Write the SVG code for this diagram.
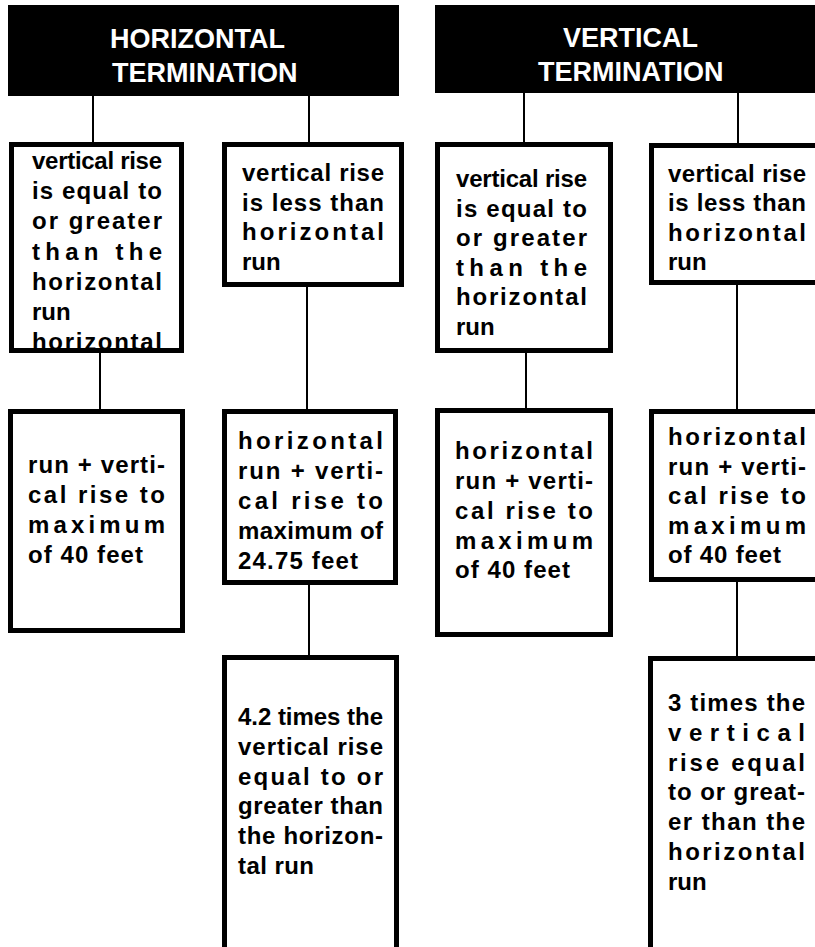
<svg xmlns="http://www.w3.org/2000/svg" width="815" height="947" viewBox="0 0 815 947">
<style>
.hb{fill:#000}
.ht{fill:#fff;font-family:"Liberation Sans",Arial,sans-serif;font-weight:bold;font-size:27px}
.bg{fill:#fff}
.fr{fill:none;stroke:#000;stroke-width:5}
.t{fill:#000;font-family:"Liberation Sans",Arial,sans-serif;font-weight:bold;font-size:24px}
.c line{stroke:#000;stroke-width:2}
</style>
<rect width="815" height="947" fill="#fff"/>
<g id="connectors" class="c">
<line x1="93" y1="96" x2="93" y2="143"/>
<line x1="309" y1="96" x2="309" y2="143"/>
<line x1="100" y1="352" x2="100" y2="410"/>
<line x1="307" y1="286" x2="307" y2="410"/>
<line x1="309" y1="584" x2="309" y2="656"/>
<line x1="524" y1="92" x2="524" y2="143"/>
<line x1="738" y1="92" x2="738" y2="144"/>
<line x1="526" y1="352" x2="526" y2="409"/>
<line x1="737" y1="284" x2="737" y2="410"/>
<line x1="737" y1="581" x2="737" y2="657"/>
</g>
<g id="hdr-horizontal">
<rect class="hb" x="8" y="5" width="391" height="91"/>
<text class="ht" x="110" y="48">HORIZONTAL</text>
<text class="ht" x="112" y="82">TERMINATION</text>
</g>
<g id="hdr-vertical">
<rect class="hb" x="435" y="5" width="385" height="88"/>
<text class="ht" x="563" y="47">VERTICAL</text>
<text class="ht" x="538" y="81">TERMINATION</text>
</g>
<g id="h-rise-ge">
<rect class="bg" x="11.5" y="144.5" width="170" height="206"/>
<text class="t" x="32" y="169" textLength="130">vertical rise</text>
<text class="t" x="32" y="199.2" textLength="130">is equal to</text>
<text class="t" x="32" y="229.4" textLength="130">or greater</text>
<text class="t" x="32" y="259.6" textLength="130">than the</text>
<text class="t" x="32" y="289.8" textLength="130">horizontal</text>
<text class="t" x="32" y="320">run</text>
<text class="t" x="32" y="350.2" textLength="130">horizontal</text>
<rect class="fr" x="11.5" y="144.5" width="170" height="206"/>
</g>
<g id="h-rise-lt">
<rect class="bg" x="224.5" y="144.5" width="177" height="140"/>
<text class="t" x="242" y="181" textLength="142">vertical rise</text>
<text class="t" x="242" y="210.5" textLength="142">is less than</text>
<text class="t" x="242" y="240" textLength="142">horizontal</text>
<text class="t" x="242" y="269.5">run</text>
<rect class="fr" x="224.5" y="144.5" width="177" height="140"/>
</g>
<g id="h-max40">
<rect class="bg" x="10.5" y="411.5" width="172" height="219"/>
<text class="t" x="28" y="473.3" textLength="137">run + verti-</text>
<text class="t" x="28" y="503" textLength="137">cal rise to</text>
<text class="t" x="28" y="532.8" textLength="137">maximum</text>
<text class="t" x="28" y="562.7" textLength="115">of 40 feet</text>
<rect class="fr" x="10.5" y="411.5" width="172" height="219"/>
</g>
<g id="h-max2475">
<rect class="bg" x="224.5" y="411.5" width="171" height="171"/>
<text class="t" x="238" y="449" textLength="145">horizontal</text>
<text class="t" x="238" y="479" textLength="145">run + verti-</text>
<text class="t" x="238" y="509" textLength="145">cal rise to</text>
<text class="t" x="238" y="539" textLength="145">maximum of</text>
<text class="t" x="238" y="569" textLength="120">24.75 feet</text>
<rect class="fr" x="224.5" y="411.5" width="171" height="171"/>
</g>
<g id="h-42times">
<rect class="bg" x="224.5" y="657.5" width="172" height="300"/>
<text class="t" x="238" y="725" textLength="145">4.2 times the</text>
<text class="t" x="238" y="754.8" textLength="145">vertical rise</text>
<text class="t" x="238" y="784.6" textLength="145">equal to or</text>
<text class="t" x="238" y="814.4" textLength="145">greater than</text>
<text class="t" x="238" y="844.2" textLength="145">the horizon-</text>
<text class="t" x="238" y="874" textLength="76">tal run</text>
<rect class="fr" x="224.5" y="657.5" width="172" height="300"/>
</g>
<g id="v-rise-ge">
<rect class="bg" x="437.5" y="144.5" width="173" height="206"/>
<text class="t" x="456" y="187" textLength="131">vertical rise</text>
<text class="t" x="456" y="216.6" textLength="131">is equal to</text>
<text class="t" x="456" y="246.2" textLength="131">or greater</text>
<text class="t" x="456" y="275.8" textLength="131">than the</text>
<text class="t" x="456" y="305.4" textLength="131">horizontal</text>
<text class="t" x="456" y="335">run</text>
<rect class="fr" x="437.5" y="144.5" width="173" height="206"/>
</g>
<g id="v-rise-lt">
<rect class="bg" x="651.5" y="145.5" width="200" height="137"/>
<text class="t" x="668" y="181.5" textLength="138">vertical rise</text>
<text class="t" x="668" y="211" textLength="138">is less than</text>
<text class="t" x="668" y="240.5" textLength="138">horizontal</text>
<text class="t" x="668" y="270">run</text>
<rect class="fr" x="651.5" y="145.5" width="200" height="137"/>
</g>
<g id="v-max40-a">
<rect class="bg" x="437.5" y="410.5" width="173" height="224"/>
<text class="t" x="455" y="459.3" textLength="138">horizontal</text>
<text class="t" x="455" y="489" textLength="138">run + verti-</text>
<text class="t" x="455" y="518.7" textLength="138">cal rise to</text>
<text class="t" x="455" y="548.5" textLength="138">maximum</text>
<text class="t" x="455" y="578.3" textLength="115">of 40 feet</text>
<rect class="fr" x="437.5" y="410.5" width="173" height="224"/>
</g>
<g id="v-max40-b">
<rect class="bg" x="651.5" y="411.5" width="200" height="168"/>
<text class="t" x="668" y="445" textLength="138">horizontal</text>
<text class="t" x="668" y="474.5" textLength="138">run + verti-</text>
<text class="t" x="668" y="504" textLength="138">cal rise to</text>
<text class="t" x="668" y="533.5" textLength="138">maximum</text>
<text class="t" x="668" y="563.3" textLength="113">of 40 feet</text>
<rect class="fr" x="651.5" y="411.5" width="200" height="168"/>
</g>
<g id="v-3times">
<rect class="bg" x="650.5" y="658.5" width="200" height="300"/>
<text class="t" x="668" y="710.7" textLength="137">3 times the</text>
<text class="t" x="668" y="740.6" textLength="137">vertical</text>
<text class="t" x="668" y="770.5" textLength="137">rise equal</text>
<text class="t" x="668" y="800.4" textLength="137">to or great-</text>
<text class="t" x="668" y="830.3" textLength="137">er than the</text>
<text class="t" x="668" y="860.2" textLength="137">horizontal</text>
<text class="t" x="668" y="890.1">run</text>
<rect class="fr" x="650.5" y="658.5" width="200" height="300"/>
</g>
</svg>
